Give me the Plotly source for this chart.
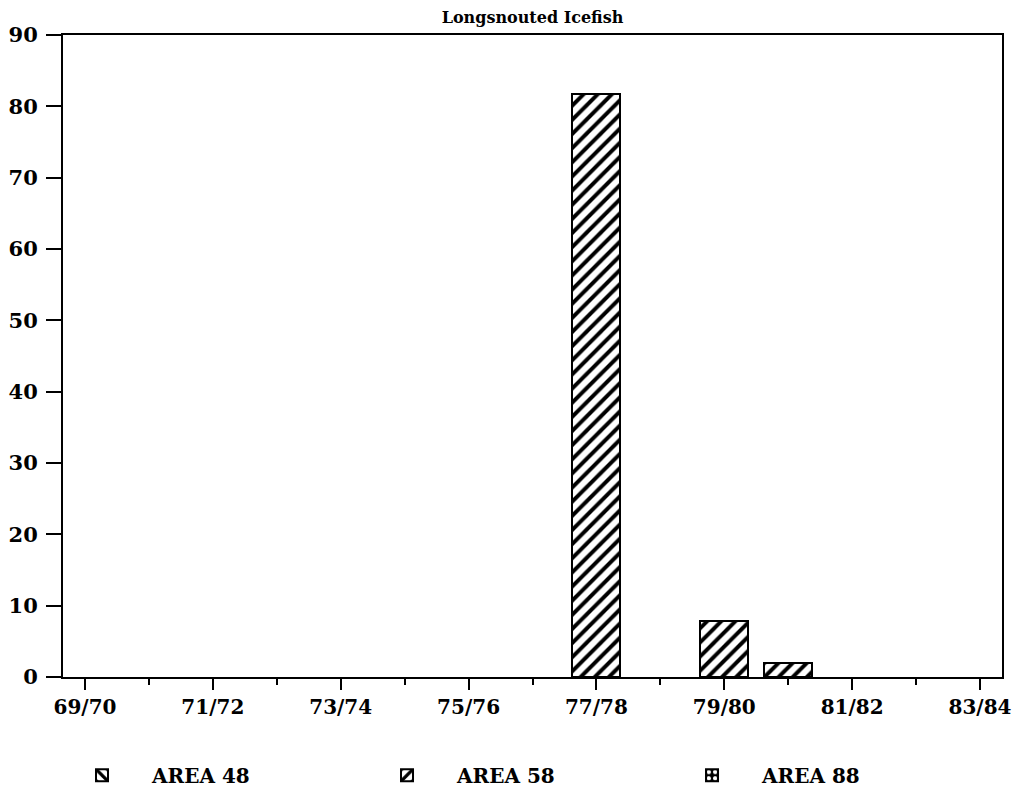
import plotly.graph_objects as go

seasons = ["69/70", "70/71", "71/72", "72/73", "73/74", "74/75", "75/76", "76/77",
           "77/78", "78/79", "79/80", "80/81", "81/82", "82/83", "83/84"]
area48 = [None] * 15
area58 = [None, None, None, None, None, None, None, None, 81.7, None, 7.8, 2.0, None, None, None]
area88 = [None] * 15
labelled = ["69/70", "71/72", "73/74", "75/76", "77/78", "79/80", "81/82", "83/84"]
yticks = [0, 10, 20, 30, 40, 50, 60, 70, 80, 90]

FONT = "DejaVu Serif"
xpos = list(range(len(seasons)))
tickpos = [seasons.index(s) for s in labelled]

fig = go.Figure()
fig.add_trace(go.Bar(
    x=xpos, y=area48, name="AREA 48", width=0.75,
    marker=dict(color="white", line=dict(color="black", width=2),
                pattern=dict(shape="\\", fgcolor="black", bgcolor="white", fgopacity=1,
                             size=10, solidity=0.4)),
))
fig.add_trace(go.Bar(
    x=xpos, y=area58, name="AREA 58", width=0.75,
    marker=dict(color="white", line=dict(color="black", width=2),
                pattern=dict(shape="/", fgcolor="black", bgcolor="white", fgopacity=1,
                             size=10, solidity=0.4)),
))
fig.add_trace(go.Bar(
    x=xpos, y=area88, name="AREA 88", width=0.75,
    marker=dict(color="black", line=dict(color="black", width=2),
                pattern=dict(shape=".", fgcolor="white", bgcolor="black", fgopacity=1,
                             size=8, solidity=0.4)),
))

fig.update_layout(
    width=1014, height=783,
    margin=dict(l=55, r=20, t=27, b=114, autoexpand=False),
    paper_bgcolor="white", plot_bgcolor="white",
    barmode="stack",
    font=dict(family=FONT, size=20, color="black", weight="bold"),
    title=dict(text="Longsnouted Icefish", x=0.5, xref="paper", xanchor="center",
               y=1, yref="container", yanchor="top", pad=dict(t=4), automargin=False,
               font=dict(family=FONT, size=16, color="black", weight="bold")),
    xaxis=dict(
        range=[-0.344, 14.344], tickmode="array", tickvals=tickpos, ticktext=labelled,
        ticks="outside", ticklen=11, tickwidth=2, tickcolor="black",
        showline=True, linecolor="black", linewidth=2, mirror=True,
        showgrid=False, zeroline=False, automargin=False,
        tickfont=dict(family=FONT, size=20, color="black", weight="bold"),
        minor=dict(dtick=1, tick0=0, ticks="outside", ticklen=6, tickwidth=2,
                   tickcolor="black", showgrid=False),
    ),
    yaxis=dict(
        range=[0, 90], tickmode="array", tickvals=yticks,
        ticks="outside", ticklen=15, tickwidth=2, tickcolor="black",
        showline=True, linecolor="black", linewidth=2, mirror=True,
        showgrid=False, zeroline=False, automargin=False, ticklabelstandoff=4,
        tickfont=dict(family=FONT, size=21, color="black", weight="bold"),
    ),
    legend=dict(
        orientation="h", x=-0.0117, xanchor="left", y=-0.153, yanchor="middle",
        entrywidth=200, entrywidthmode="pixels", itemwidth=90,
        font=dict(family=FONT, size=20, color="black", weight="bold"),
        traceorder="normal",
    ),
    showlegend=True,
)

fig.write_html("out.html")
